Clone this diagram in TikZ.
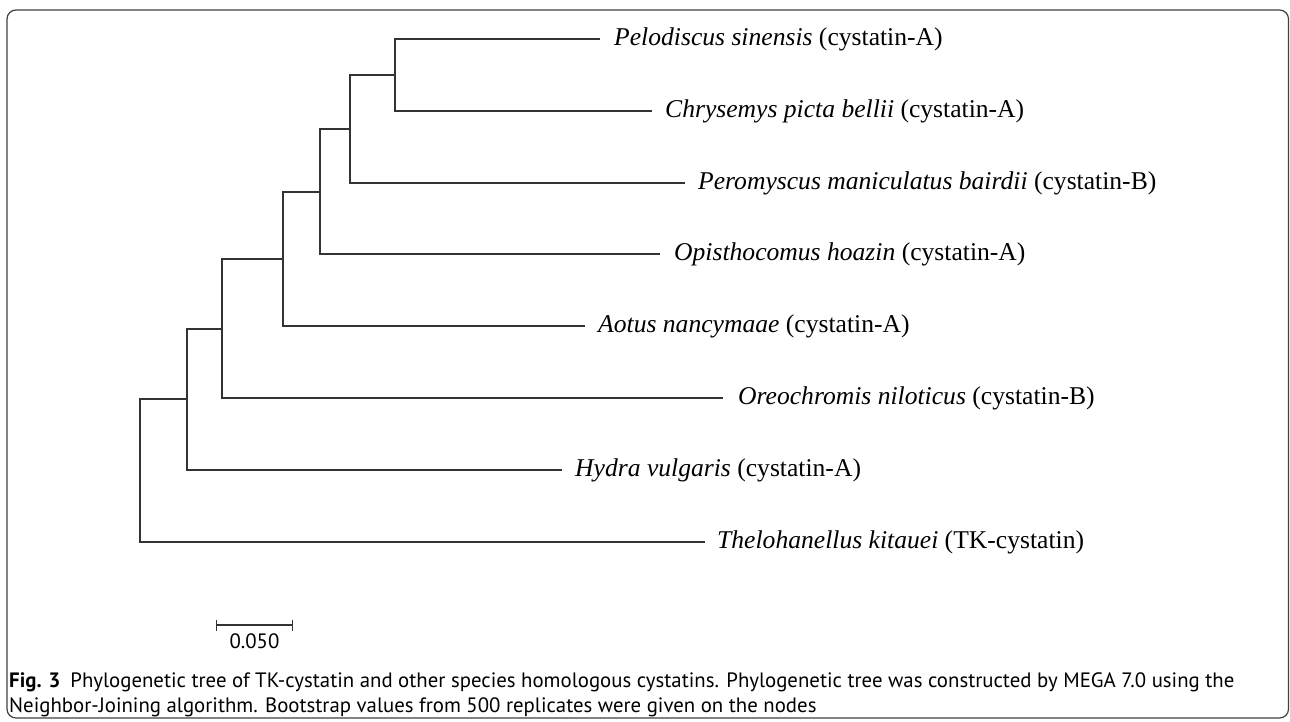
\documentclass[tikz,border=0pt]{standalone}
\usepackage{fontspec}
\setmainfont{Liberation Serif}
\newfontfamily\capfont{PT Sans}
\usetikzlibrary{positioning,arrows.meta}
\tikzset{
  branch/.style={line width=1.3pt, draw=black!80},
  taxon/.style={anchor=west, inner sep=0pt, font=\fontsize{25.6}{30}\selectfont},
  captext/.style={anchor=west, inner sep=0pt, font=\capfont\fontsize{20.8}{25}\selectfont},
}
\begin{document}
\begin{tikzpicture}[x=1pt,y=-1pt]
  \useasboundingbox (0,0) rectangle (1290,721);
  \draw[line width=1.2pt, black!75, rounded corners=9pt] (7,10) rectangle (1288.5,718);
  % tips
  \coordinate (pel) at (600,39);
  \coordinate (chr) at (652,111);
  \coordinate (per) at (685,183);
  \coordinate (opi) at (660,254);
  \coordinate (aot) at (585,326);
  \coordinate (ore) at (723,398);
  \coordinate (hyd) at (562,470);
  \coordinate (the) at (705,542);
  % inner nodes
  \coordinate (n1) at (395,75);
  \coordinate (n2) at (350,129);
  \coordinate (n3) at (320,192);
  \coordinate (n4) at (283,259);
  \coordinate (n5) at (222,329);
  \coordinate (n6) at (187,399);
  \coordinate (n7) at (140,471);
  \draw[branch] (pel) -| (n1) |- (chr);
  \draw[branch] (n1) -| (n2) |- (per);
  \draw[branch] (n2) -| (n3) |- (opi);
  \draw[branch] (n3) -| (n4) |- (aot);
  \draw[branch] (n4) -| (n5) |- (ore);
  \draw[branch] (n5) -| (n6) |- (hyd);
  \draw[branch] (n6) -| (n7) |- (the);
  % labels
  \node[taxon, right=14pt of pel] (pelL) {\textit{Pelodiscus sinensis} (cystatin-A)};
  \node[taxon, right=13pt of chr] (chrL) {\textit{Chrysemys picta bellii} (cystatin-A)};
  \node[taxon, right=13pt of per] (perL) {\textit{Peromyscus maniculatus bairdii} (cystatin-B)};
  \node[taxon, right=14pt of opi] (opiL) {\textit{Opisthocomus hoazin} (cystatin-A)};
  \node[taxon, right=13pt of aot] (aotL) {\textit{Aotus nancymaae} (cystatin-A)};
  \node[taxon, right=15pt of ore] (oreL) {\textit{Oreochromis niloticus} (cystatin-B)};
  \node[taxon, right=13pt of hyd] (hydL) {\textit{Hydra vulgaris} (cystatin-A)};
  \node[taxon, right=12pt of the] (theL) {\textit{Thelohanellus kitauei} (TK-cystatin)};
  % scale
  \coordinate (sbL) at (216,625);
  \coordinate (sbR) at (293,625);
  \coordinate (sbM) at (254.5,625);
  \draw[line width=1.1pt, black!80, {Bar[width=11pt]}-{Bar[width=11pt]}] (sbL) -- (sbR);
  \node[captext, below=8pt of sbM] (sbT) {0.050};
  % caption
  \node[captext] (cap1) at (9,682) {\textbf{Fig. 3}\hspace{10pt}Phylogenetic tree of TK-cystatin and other species homologous cystatins. Phylogenetic tree was constructed by MEGA 7.0 using the};
  \node[captext] (cap2) at (9,707) {Neighbor-Joining algorithm. Bootstrap values from 500 replicates were given on the nodes};
\end{tikzpicture}
\end{document}
